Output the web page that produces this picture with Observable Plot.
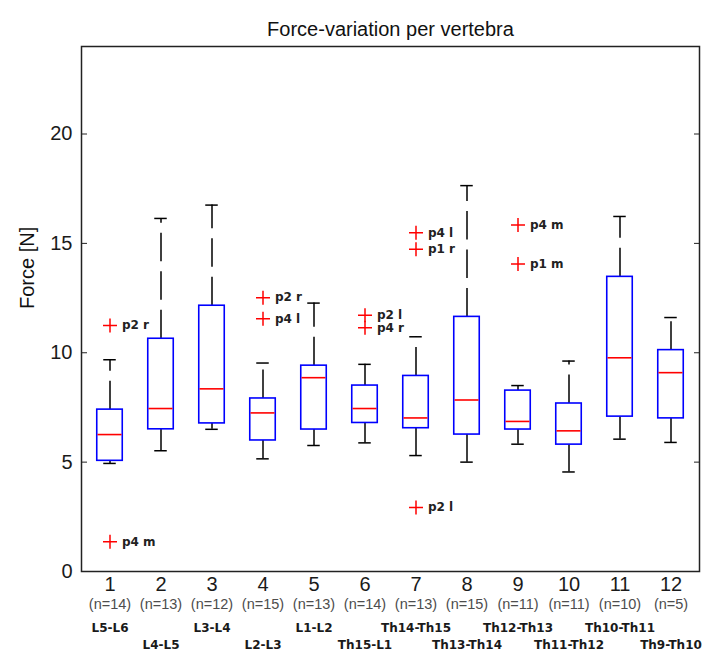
<!DOCTYPE html>
<html>
<head>
<meta charset="utf-8">
<script src="https://cdn.jsdelivr.net/npm/d3@7"></script>
<script src="https://cdn.jsdelivr.net/npm/@observablehq/plot@0.6"></script>
<style>
  html, body { margin: 0; padding: 0; background: #fff; }
</style>
</head>
<body>
<div id="chart"></div>
<script>
// ---- data ----
const categories = [1, 2, 3, 4, 5, 6, 7, 8, 9, 10, 11, 12];
const counts = [14, 13, 12, 15, 13, 14, 13, 15, 11, 11, 10, 5];
const vertebrae = ["L5-L6", "L4-L5", "L3-L4", "L2-L3", "L1-L2", "Th15-L1", "Th14-Th15", "Th13-Th14", "Th12-Th13", "Th11-Th12", "Th10-Th11", "Th9-Th10"];
const whiskerLow = [4.94, 5.52, 6.50, 5.15, 5.76, 5.88, 5.30, 5.00, 5.82, 4.55, 6.05, 5.90];
const quartile1 = [5.06, 6.50, 6.77, 5.99, 6.49, 6.79, 6.55, 6.26, 6.49, 5.80, 7.08, 7.00];
const medians = [6.26, 7.45, 8.35, 7.25, 8.86, 7.45, 7.02, 7.84, 6.86, 6.43, 9.77, 9.09];
const quartile3 = [7.40, 10.64, 12.15, 7.91, 9.41, 8.50, 8.94, 11.64, 8.27, 7.68, 13.47, 10.12];
const whiskerHigh = [9.68, 16.14, 16.75, 9.53, 12.27, 9.47, 10.73, 17.64, 8.50, 9.62, 16.23, 11.61];
const outlierCategory = [1, 1, 4, 4, 6, 6, 7, 7, 7, 9, 9];
const outlierValue = [11.25, 1.36, 12.52, 11.55, 11.71, 11.14, 15.49, 14.73, 2.93, 15.84, 14.06];
const outlierLabel = ["p2 r", "p4 m", "p2 r", "p4 l", "p2 l", "p4 r", "p4 l", "p1 r", "p2 l", "p4 m", "p1 m"];
const yTicks = [0, 5, 10, 15, 20];
const title = "Force-variation per vertebra";
const yLabel = "Force [N]";

// ---- tables built from the arrays ----
const boxes = categories.map((c, i) => ({
  cat: c, lo: whiskerLow[i], q1: quartile1[i], med: medians[i], q3: quartile3[i], hi: whiskerHigh[i],
  n: `(n=${counts[i]})`, name: vertebrae[i], row: i % 2
}));
const outliers = outlierCategory.map((c, i) => ({cat: c, v: outlierValue[i], label: outlierLabel[i]}));

const plusSymbol = {
  draw(ctx, size) {
    const r = Math.sqrt(size / Math.PI);
    ctx.moveTo(-r, 0); ctx.lineTo(r, 0);
    ctx.moveTo(0, -r); ctx.lineTo(0, r);
  }
};

const labelFont = "'DejaVu Sans', Verdana, sans-serif";
const mainFont = "'Liberation Sans', Arial, Helvetica, sans-serif";

const chart = Plot.plot({
  width: 711,
  height: 659,
  marginLeft: 81,
  marginRight: 12,
  marginTop: 46,
  marginBottom: 88,
  style: {fontFamily: mainFont, background: "#fff", color: "#1a1a1a"},
  x: {type: "band", domain: categories, padding: 0, axis: null},
  y: {domain: [0, 24], axis: null},
  marks: [
    // whiskers (dashed, starting at the box edge)
    Plot.ruleX(boxes, {x: "cat", y1: "q3", y2: "hi", stroke: "#000", strokeWidth: 1.5, strokeDasharray: "28.5,10"}),
    Plot.ruleX(boxes, {x: "cat", y1: "q1", y2: "lo", stroke: "#000", strokeWidth: 1.5, strokeDasharray: "28.5,10"}),
    // whisker caps
    Plot.tickY(boxes, {x: "cat", y: "hi", stroke: "#000", strokeWidth: 1.5, insetLeft: 19.25, insetRight: 19.25}),
    Plot.tickY(boxes, {x: "cat", y: "lo", stroke: "#000", strokeWidth: 1.5, insetLeft: 19.25, insetRight: 19.25}),
    // boxes
    Plot.barY(boxes, {x: "cat", y1: "q1", y2: "q3", fill: "#fff", stroke: "#0000ff", strokeWidth: 1.6, insetLeft: 12.75, insetRight: 12.75}),
    // medians
    Plot.tickY(boxes, {x: "cat", y: "med", stroke: "#ff0000", strokeWidth: 1.6, insetLeft: 13.5, insetRight: 13.5}),
    // outliers
    Plot.dot(outliers, {x: "cat", y: "v", symbol: plusSymbol, r: 7, fill: "none", stroke: "#ff0000", strokeWidth: 1.5}),
    Plot.text(outliers, {x: "cat", y: "v", text: "label", dx: 12, textAnchor: "start", fontSize: 12, fontWeight: "bold", fontFamily: labelFont, fill: "#222"}),
    // frame and axes
    Plot.frame({stroke: "#222", strokeWidth: 1.5}),
    Plot.axisY({anchor: "left", ticks: yTicks, tickSize: -6, tickPadding: 15, fontSize: 20, stroke: "#222", fill: "#1a1a1a", label: null}),
    Plot.axisY({anchor: "right", ticks: yTicks, tickSize: -6, tickFormat: () => "", stroke: "#222", label: null}),
    // x labels
    Plot.text(boxes, {x: "cat", frameAnchor: "bottom", text: "cat", dy: 19, fontSize: 20, fill: "#1a1a1a"}),
    Plot.text(boxes, {x: "cat", frameAnchor: "bottom", text: "n", dy: 37, fontSize: 14.5, fill: "#4d4d4d"}),
    Plot.text(boxes.filter(d => d.row === 0), {x: "cat", frameAnchor: "bottom", text: "name", dy: 60, fontSize: 12, fontWeight: "bold", fontFamily: labelFont, fill: "#1a1a1a"}),
    Plot.text(boxes.filter(d => d.row === 1), {x: "cat", frameAnchor: "bottom", text: "name", dy: 77, fontSize: 12, fontWeight: "bold", fontFamily: labelFont, fill: "#1a1a1a"}),
    // title and y label
    Plot.text([title], {frameAnchor: "top", dy: -25, fontSize: 20, fill: "#111"}),
    Plot.text([yLabel], {frameAnchor: "left", dx: -54, rotate: -90, fontSize: 20, fill: "#111"})
  ]
});

document.getElementById("chart").appendChild(chart);
</script>
</body>
</html>
